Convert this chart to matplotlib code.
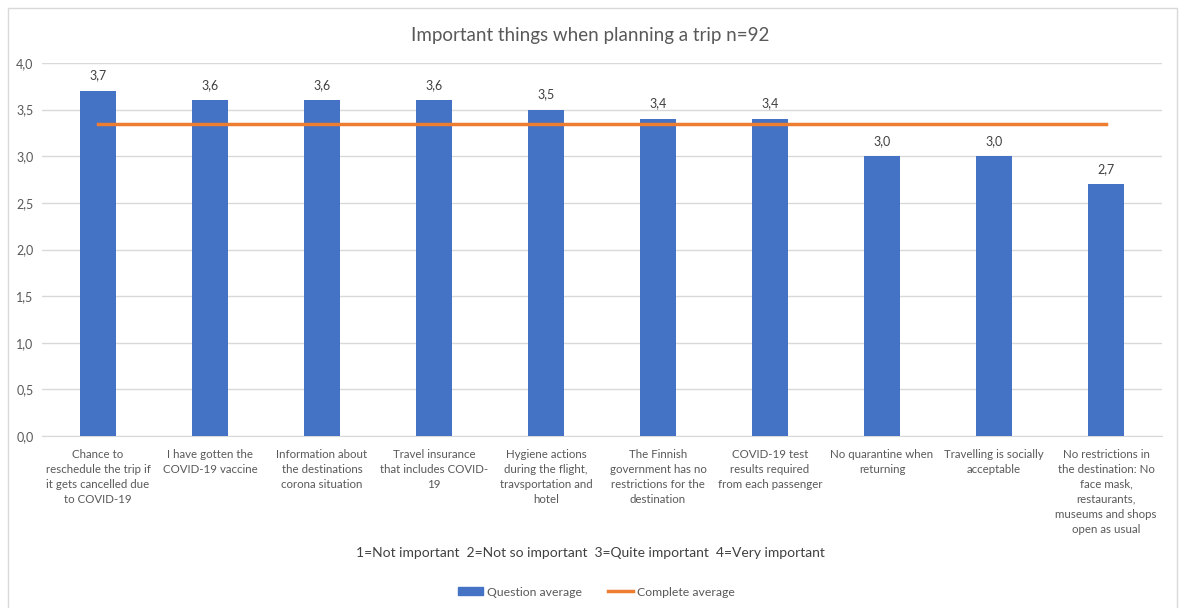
import matplotlib.pyplot as plt
from matplotlib.patches import Rectangle
from matplotlib.lines import Line2D

plt.rcParams['font.family'] = ['Lato', 'DejaVu Sans']

categories = [
    "Chance to\nreschedule the trip if\nit gets cancelled due\nto COVID-19",
    "I have gotten the\nCOVID-19 vaccine",
    "Information about\nthe destinations\ncorona situation",
    "Travel insurance\nthat includes COVID-\n19",
    "Hygiene actions\nduring the flight,\ntravsportation and\nhotel",
    "The Finnish\ngovernment has no\nrestrictions for the\ndestination",
    "COVID-19 test\nresults required\nfrom each passenger",
    "No quarantine when\nreturning",
    "Travelling is socially\nacceptable",
    "No restrictions in\nthe destination: No\nface mask,\nrestaurants,\nmuseums and shops\nopen as usual",
]
question_avg = [3.7, 3.6, 3.6, 3.6, 3.5, 3.4, 3.4, 3.0, 3.0, 2.7]
complete_avg = 3.35
yticks = [0.0, 0.5, 1.0, 1.5, 2.0, 2.5, 3.0, 3.5, 4.0]

blue = '#4472C4'
orange = '#ED7D31'
txt = '#595959'

fig = plt.figure(figsize=(11.81, 6.08), dpi=100)
fig.patches.append(Rectangle((8 / 1181, -0.01), 1169 / 1181, 1 - 8 / 608 + 0.01,
                             transform=fig.transFigure, fill=False,
                             edgecolor='#d9d9d9', lw=1))

ax = fig.add_axes([42 / 1181, 1 - 436 / 608, 1120 / 1181, 373 / 608])
x = list(range(len(categories)))
ax.bar(x, question_avg, width=0.32, color=blue, zorder=3)
ax.plot([x[0], x[-1]], [complete_avg, complete_avg], color=orange, lw=2.5, zorder=4)

for xi, v in zip(x, question_avg):
    ax.text(xi, v + 0.1, f"{v:.1f}".replace('.', ','), ha='center', va='bottom',
            fontsize=9, color='#404040')

ax.set_xlim(-0.5, len(categories) - 0.5)
ax.set_ylim(0, 4)
ax.set_yticks(yticks)
ax.set_yticklabels([f"{t:.1f}".replace('.', ',') for t in yticks], fontsize=9, color=txt)
ax.set_xticks(x)
ax.set_xticklabels(categories, fontsize=8.3, color=txt, linespacing=1.45, va='top')
ax.tick_params(length=0, pad=9)
ax.tick_params(axis='y', pad=6)
ax.grid(axis='y', color='#d9d9d9', lw=1, zorder=0)
for s in ax.spines.values():
    s.set_visible(False)
ax.spines['bottom'].set_visible(True)
ax.spines['bottom'].set_color('#d9d9d9')

fig.text(0.5, 1 - 35 / 608, "Important things when planning a trip n=92",
         ha='center', va='center', fontsize=13.5, color=txt)
fig.text(0.5, 1 - 553 / 608,
         "1=Not important  2=Not so important  3=Quite important  4=Very important",
         ha='center', va='center', fontsize=10, color='#404040')

handles = [Rectangle((0, 0), 1, 1, color=blue),
           Line2D([0], [0], color=orange, lw=2.5)]
fig.legend(handles, ["Question average", "Complete average"], loc='center',
           bbox_to_anchor=(0.505, 1 - 592 / 608), ncol=2, frameon=False,
           fontsize=8.8, labelcolor=txt, handlelength=2.0, handleheight=0.6,
           columnspacing=2.2, handletextpad=0.3)

fig.savefig('out.png', dpi=100, facecolor='white')
